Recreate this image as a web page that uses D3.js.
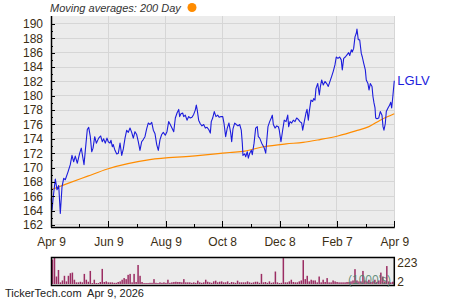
<!DOCTYPE html>
<html><head><meta charset="utf-8">
<script src="https://cdn.jsdelivr.net/npm/d3@7"></script>
<style>
html,body{margin:0;padding:0;background:#fff;}
svg{display:block;font-family:"Liberation Sans",Arial,sans-serif;}
</style></head>
<body>
<svg id="c" width="450" height="300"></svg>
<script>
// ---------------- DATA ----------------
const startDate = "2025-04-09";
const endDate = "2026-04-09";
const ticker = "LGLV";
const titleText = "Moving averages: 200 Day";
const footerText = "TickerTech.com  Apr 9, 2026";
// day offsets from start for price readings
const priceDays = [0.3,1.1,2.4,4.6,6.4,8.2,9.9,11.7,13.5,15.2,18.1,20.5,22.3,24.1,25.8,28.0,30.5,32.2,33.7,35.1,36.5,38.6,40.1,41.8,43.3,44.7,46.5,48.2,50.7,52.8,54.5,56.0,57.7,59.5,60.9,62.7,63.8,65.2,66.2,68.0,69.9,71.6,73.4,75.2,76.9,78.7,80.5,82.2,84.0,85.8,87.5,89.3,91.1,92.8,94.6,96.4,98.1,99.9,101.7,103.4,105.3,107.1,108.8,110.6,112.4,114.1,115.9,117.7,119.4,121.5,123.3,125.1,126.8,128.6,130.5,132.2,134.0,135.8,136.8,138.2,140.0,141.1,142.8,144.6,146.4,148.1,149.9,151.7,153.4,154.5,155.5,157.0,158.7,160.5,162.3,164.1,165.9,167.7,169.4,170.4,171.9,173.6,175.4,177.2,178.9,180.7,182.6,183.9,185.7,187.4,189.2,191.1,192.1,193.5,195.3,197.0,198.8,200.6,202.3,203.4,204.1,205.9,207.0,208.7,209.8,211.3,213.0,214.0,215.9,217.6,219.3,220.4,221.9,224.0,226.5,228.3,229.3,230.7,232.5,234.2,235.3,236.4,238.2,240.0,241.7,242.7,244.5,246.3,248.0,249.9,251.7,252.7,254.1,255.9,257.6,259.4,261.2,262.9,264.7,266.5,267.6,269.3,271.1,272.2,273.6,274.6,276.4,278.2,279.3,280.7,281.7,283.6,285.3,286.3,287.8,289.5,291.3,293.1,294.8,296.6,298.4,300.1,301.9,303.3,305.1,306.9,308.6,309.7,311.2,312.9,314.7,316.5,317.6,319.3,320.3,321.8,323.2,324.6,325.3,326.7,328.2,329.9,331.0,332.5,334.2,335.2,337.0,338.1,339.5,341.3,342.3,343.4,344.5,345.2,346.6,348.4,350.1,351.9,353.0,354.0,355.4,356.5,358.3,360.1,361.2,362.2,363.6,364.7,365.0];
const priceValues = [165.7,164.1,165.9,168.4,166.9,167.5,163.6,167.3,168.5,168.3,169.4,170.4,171.7,170.8,171.6,170.6,172.0,172.7,171.5,170.4,172.4,175.3,175.6,174.3,172.2,172.7,174.3,173.4,174.1,174.4,173.6,174.0,173.4,174.1,173.6,173.4,173.8,172.9,173.2,172.4,171.9,172.0,173.4,171.7,172.6,174.1,175.2,174.9,175.5,174.9,174.1,175.0,174.6,173.6,172.4,173.6,173.9,174.3,175.4,176.2,176.0,176.3,175.2,174.7,173.2,172.4,173.9,174.6,174.9,174.5,175.0,176.4,176.0,175.5,175.0,176.9,177.6,178.1,177.1,177.5,177.6,177.1,177.3,176.6,177.1,176.9,177.0,177.4,178.0,178.7,178.0,176.6,176.1,175.8,176.0,175.5,175.6,175.3,174.8,176.4,176.9,177.8,177.1,177.3,177.0,177.1,177.1,176.2,174.3,175.5,176.2,174.8,173.6,175.4,176.2,176.0,175.8,176.0,175.2,173.4,171.7,171.9,171.5,172.2,171.3,172.0,172.4,171.8,173.4,175.5,175.7,174.3,174.1,173.4,172.8,172.0,173.6,175.7,176.4,176.9,177.3,176.0,175.5,175.8,175.7,175.2,173.6,175.2,176.6,176.4,177.3,175.7,176.4,176.2,176.6,176.4,176.9,176.7,176.4,176.2,175.2,176.4,177.6,178.1,176.6,177.8,179.4,179.2,179.6,179.4,181.0,181.7,180.1,181.2,182.2,181.5,182.0,181.7,181.3,182.0,182.7,183.4,184.3,185.4,185.2,185.4,185.0,183.6,185.2,185.4,185.7,186.0,185.6,186.4,186.1,186.6,188.2,188.7,189.3,187.8,187.8,185.9,185.4,184.5,183.6,182.2,181.7,180.8,181.7,181.3,179.9,179.0,178.3,176.9,176.8,176.9,177.8,177.3,175.7,175.2,176.1,177.8,178.3,178.7,179.1,178.3,180.1,181.7,182.1];
// 200-day moving average readings
const maDays = [0,18,39,60,105,150,175,190,206,226,250,268,286,305,324,338,350,365];
const maValues = [166.9,167.8,168.8,169.8,171.1,171.6,171.9,172.1,172.3,172.9,173.3,173.5,173.9,174.4,175.1,175.7,176.6,177.5];
// volume (1000's), roughly evenly spaced across the year
const volumes = [206,223,63,118,14,30,69,22,69,91,96,36,14,14,19,14,85,36,19,110,8,36,8,8,17,127,17,22,14,14,14,10,10,17,22,36,50,41,77,85,14,85,17,160,69,17,8,8,8,10,10,41,10,8,14,10,14,10,36,10,14,17,19,17,17,14,41,14,14,14,10,14,10,28,14,10,14,36,19,14,10,22,28,14,19,22,14,14,22,8,17,14,10,28,14,14,14,14,22,14,10,14,19,19,10,85,14,17,10,22,10,14,105,14,8,10,218,14,14,22,36,17,14,14,22,30,201,41,69,22,36,30,30,14,63,14,36,17,50,14,14,30,22,17,14,14,14,14,17,17,22,30,125,30,22,22,110,30,22,36,17,22,36,17,30,96,63,22,151,22,14,19];
const volMaxLabel = "223";
const volMinLabel = "2";
const volUnitLabel = "(1000's)";
// axis ticks
const yTicks = [162,164,166,168,170,172,174,176,178,180,182,184,186,188,190];
const xTickDates = ["2025-04-09","2025-06-09","2025-08-09","2025-10-08","2025-12-08","2026-02-07","2026-04-09"];
const xTickLabels = ["Apr 9","Jun 9","Aug 9","Oct 8","Dec 8","Feb 7","Apr 9"];
const xMinorDates = ["2025-05-09","2025-07-09","2025-09-08","2025-11-08","2026-01-07","2026-03-10"];

// ---------------- DRAW ----------------
const svg = d3.select("#c");
const parse = d3.utcParse("%Y-%m-%d");
const t0 = parse(startDate), t1 = parse(endDate);
const dayMs = 86400000;
const L = 51, R = 394.3, T = 16, B = 227;
const x = d3.scaleUtc().domain([t0, t1]).range([L, R]);
const y = d3.scaleLinear().domain([161.72, 191.11]).range([B, T]);

const axisColor = "#3b2e14";

// plot background
svg.append("rect").attr("x", L).attr("y", T).attr("width", R - L).attr("height", B - T).attr("fill", "#ececec");

// gridlines
svg.append("g").selectAll("line").data(yTicks).join("line")
  .attr("x1", L).attr("x2", R).attr("y1", d => y(d)).attr("y2", d => y(d))
  .attr("stroke", "#d6d6d6").attr("stroke-width", 1).attr("shape-rendering", "crispEdges");
svg.append("g").selectAll("line").data(xTickDates.map(parse)).join("line")
  .attr("x1", d => x(d)).attr("x2", d => x(d)).attr("y1", T).attr("y2", B)
  .attr("stroke", "#d6d6d6").attr("stroke-width", 1).attr("shape-rendering", "crispEdges");

// moving average
const maData = maDays.map((d, i) => ({ t: new Date(t0.getTime() + d * dayMs), v: maValues[i] }));
svg.append("path").datum(maData)
  .attr("d", d3.line().x(d => x(d.t)).y(d => y(d.v)).curve(d3.curveMonotoneX))
  .attr("fill", "none").attr("stroke", "#ff8c00").attr("stroke-width", 1.2);

// price
const pData = priceDays.map((d, i) => ({ t: new Date(t0.getTime() + d * dayMs), v: priceValues[i] }));
svg.append("path").datum(pData)
  .attr("d", d3.line().x(d => x(d.t)).y(d => y(d.v)))
  .attr("fill", "none").attr("stroke", "#1c1cdc").attr("stroke-width", 1.1).attr("stroke-linejoin", "round");

// y axis
const yAxis = d3.axisLeft(y).tickValues(yTicks).tickSize(0).tickPadding(8).tickFormat(d3.format("d"));
const gy = svg.append("g").attr("transform", `translate(${L},0)`).call(yAxis);
gy.select(".domain").remove();
gy.selectAll("text").attr("fill", axisColor).attr("font-size", 12).attr("font-family", "Liberation Sans, Arial, sans-serif");
// inward y ticks (major + minor)
const yMinor = yTicks.slice(0, -1).map(d => d + 1);
svg.append("g").selectAll("line").data(yTicks).join("line")
  .attr("x1", L).attr("x2", L + 4).attr("y1", d => Math.round(y(d)) + 0.5).attr("y2", d => Math.round(y(d)) + 0.5)
  .attr("stroke", "#000");
svg.append("g").selectAll("line").data(yMinor).join("line")
  .attr("x1", L).attr("x2", L + 2).attr("y1", d => Math.round(y(d)) + 0.5).attr("y2", d => Math.round(y(d)) + 0.5)
  .attr("stroke", "#000");

// x axis
const xAxis = d3.axisBottom(x).tickValues(xTickDates.map(parse)).tickSize(0).tickPadding(10)
  .tickFormat((d, i) => xTickLabels[i]);
const gx = svg.append("g").attr("transform", `translate(0,${B})`).call(xAxis);
gx.select(".domain").remove();
gx.selectAll("text").attr("fill", axisColor).attr("font-size", 12).attr("font-family", "Liberation Sans, Arial, sans-serif");
svg.append("g").selectAll("line").data(xTickDates.map(parse)).join("line")
  .attr("x1", d => Math.round(x(d)) + 0.5).attr("x2", d => Math.round(x(d)) + 0.5).attr("y1", B).attr("y2", B - 6)
  .attr("stroke", "#000");
svg.append("g").selectAll("line").data(xMinorDates.map(parse)).join("line")
  .attr("x1", d => Math.round(x(d)) + 0.5).attr("x2", d => Math.round(x(d)) + 0.5).attr("y1", B).attr("y2", B - 3)
  .attr("stroke", "#000");

// axis lines
svg.append("line").attr("x1", L + 0.5).attr("x2", L + 0.5).attr("y1", T).attr("y2", B + 0.5).attr("stroke", "#000").attr("stroke-width", 1.5);
svg.append("line").attr("x1", L).attr("x2", R + 0.5).attr("y1", B + 0.5).attr("y2", B + 0.5).attr("stroke", "#000").attr("stroke-width", 1.5);

// ticker label
svg.append("text").attr("x", R + 3).attr("y", y(priceValues[priceValues.length - 1]) + 4.5)
  .attr("fill", "#1c1cdc").attr("font-size", 13).text(ticker);

// title
svg.append("text").attr("x", 50).attr("y", 12).attr("font-size", 11).attr("font-style", "italic")
  .attr("fill", "#333").text(titleText);
svg.append("circle").attr("cx", 192).attr("cy", 7.5).attr("r", 4.5).attr("fill", "#ff8c00");

// volume panel
const VT = 257, VB = 285;
svg.append("rect").attr("x", L).attr("y", VT).attr("width", R - L).attr("height", VB - VT).attr("fill", "#ececec");
const vx = d3.scaleUtc().domain([t0, t1]).range([L + 1.5, R - 1.5]);
const vy = d3.scaleLinear().domain([0, 223]).range([VB - 1, VT + 0.5]);
const vStep = 365 / (volumes.length - 1);
svg.append("g").selectAll("rect").data(volumes).join("rect")
  .attr("x", (d, i) => vx(new Date(t0.getTime() + i * vStep * dayMs)) - 0.75)
  .attr("width", 1.5)
  .attr("y", d => vy(d)).attr("height", d => vy(0) - vy(d))
  .attr("fill", "#9b2d63");
svg.append("rect").attr("x", L + 0.5).attr("y", VT + 0.5).attr("width", R - L - 0.5).attr("height", VB - VT)
  .attr("fill", "none").attr("stroke", "#000").attr("stroke-width", 1.5);
svg.append("text").attr("x", 348).attr("y", 284).attr("font-size", 12).attr("fill", "#4f7f6a").attr("fill-opacity", 0.85).text(volUnitLabel);
svg.append("text").attr("x", R + 3).attr("y", 267).attr("font-size", 12).attr("fill", axisColor).text(volMaxLabel);
svg.append("text").attr("x", R + 3).attr("y", 286).attr("font-size", 12).attr("fill", axisColor).text(volMinLabel);

// footer
svg.append("text").attr("x", 5).attr("y", 297).attr("font-size", 11).attr("fill", "#222")
  .style("white-space", "pre").text(footerText);
</script>
</body></html>
